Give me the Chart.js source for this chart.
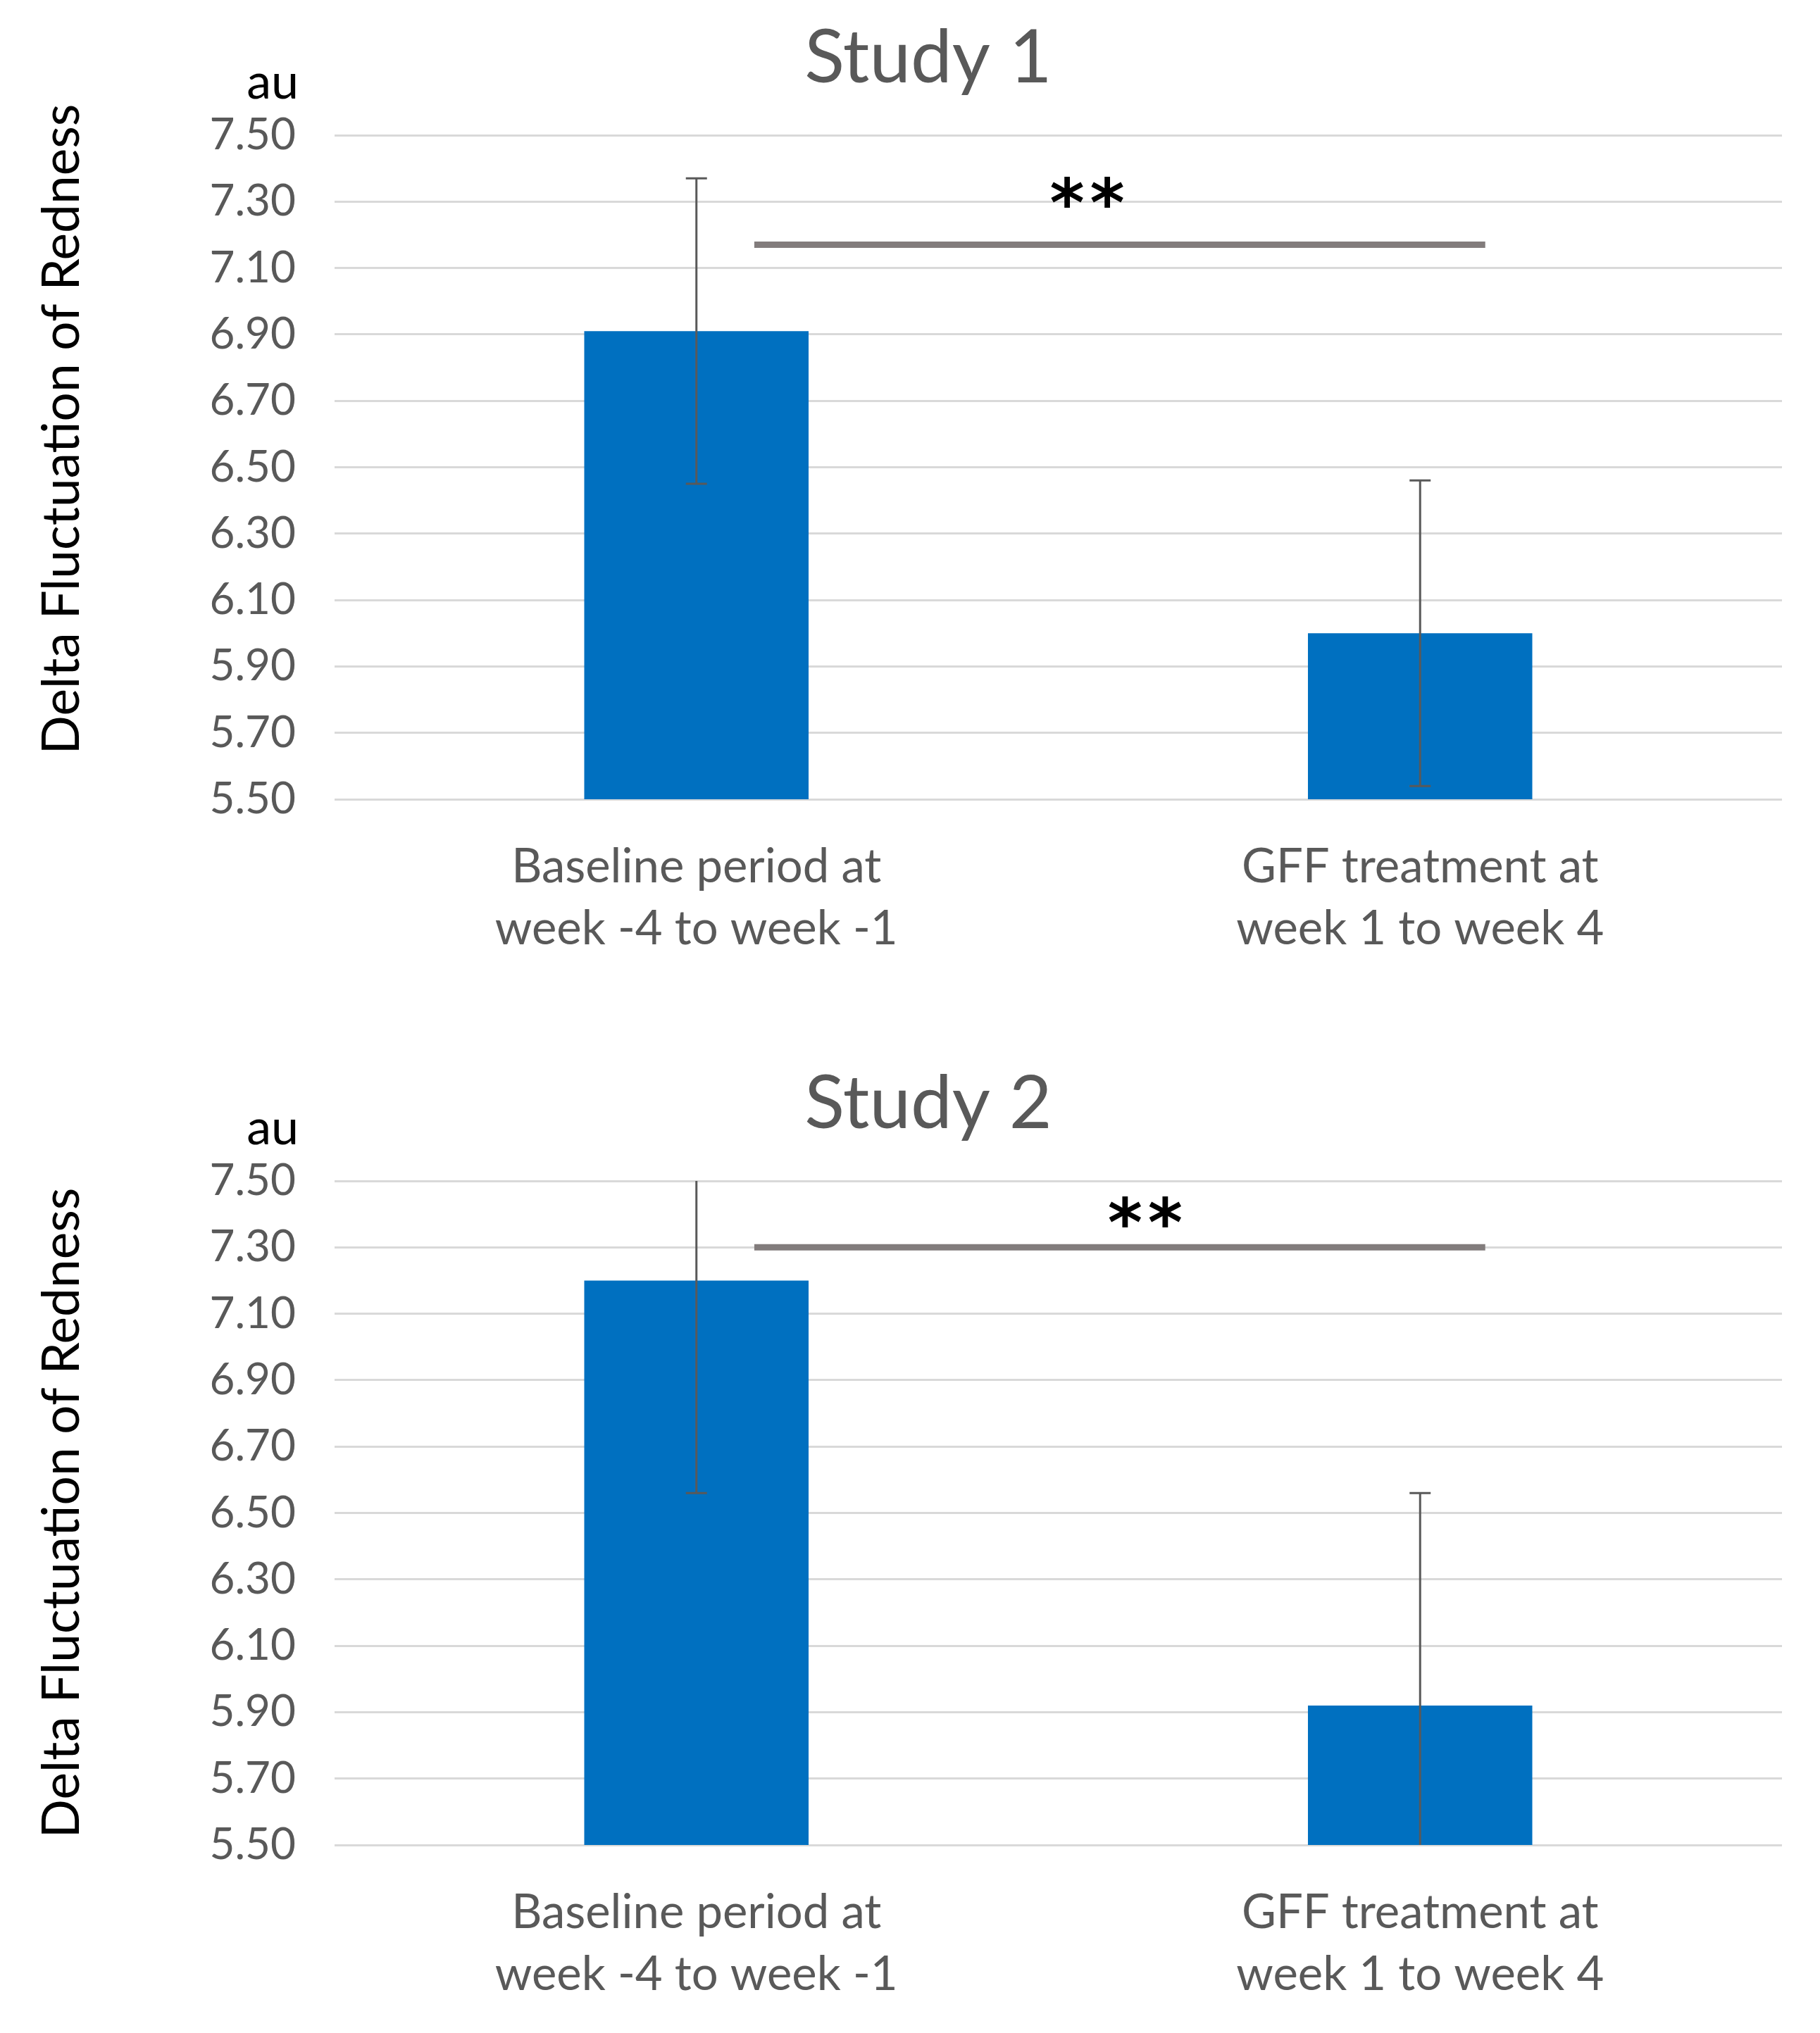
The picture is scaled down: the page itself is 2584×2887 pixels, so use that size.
<!DOCTYPE html>
<html>
<head>
<meta charset="utf-8">
<script src="https://cdn.jsdelivr.net/npm/chart.js@4.4.1/dist/chart.umd.min.js"></script>
<style>
  html, body { margin: 0; padding: 0; background: #ffffff; }
  .box { position: absolute; left: 0; width: 2584px; }
  #box1 { top: 0; height: 1485px; }
  #box2 { top: 1485px; height: 1402px; }
</style>
</head>
<body>
<div class="box" id="box1"><canvas id="chart1" width="2584" height="1485"></canvas></div>
<div class="box" id="box2"><canvas id="chart2" width="2584" height="1402"></canvas></div>
<script>
(function(){
    // values
    let categories = [
        ['Baseline period at', 'week -4 to week -1'],
        ['GFF treatment at', 'week 1 to week 4']
    ];
    let studyTitles = ['Study 1', 'Study 2'];
    let study1Means = [6.91, 6.00];
    let study1Errors = [0.46, 0.46];
    let study2Means = [7.20, 5.92];
    let study2Errors = [0.64, 0.64];
    let yMin = 5.50, yMax = 7.50, yStep = 0.20;
    let yUnit = 'au';
    let yTitle = 'Delta Fluctuation of Redness';
    // significance bracket: height, span in category units, star spot
    let sigLineY = [7.17, 7.30];
    let sigSpan = [0.08, 1.09];
    let starX = [0.54, 0.62];
    let starY = [7.32, 7.40];

    let barBlue = '#0070c0';
    let textGrey = '#595959';
    let gridGrey = '#d9d9d9';
    let plotTop = 192, plotBottom = 1135, plotLeft = 475;

    let extras = {
        id: 'extras',
        afterDatasetsDraw(chart, args, opts) {
            let ctx = chart.ctx;
            let x = chart.scales.x, y = chart.scales.y;
            let area = chart.chartArea;
            let meta = chart.getDatasetMeta(0);
            let errs = opts.errors;
            let means = chart.data.datasets[0].data;

            ctx.save();
            // error bars, cut at the axis range like the original
            ctx.strokeStyle = '#595959';
            ctx.lineWidth = 3;
            meta.data.forEach((bar, i) => {
                let hi = means[i] + errs[i], lo = means[i] - errs[i];
                let yHi = y.getPixelForValue(Math.min(hi, yMax));
                let yLo = y.getPixelForValue(Math.max(lo, yMin));
                ctx.beginPath();
                ctx.moveTo(bar.x, yHi);
                ctx.lineTo(bar.x, yLo);
                if (hi <= yMax) {
                    ctx.moveTo(bar.x - 15, yHi);
                    ctx.lineTo(bar.x + 15, yHi);
                }
                if (lo >= yMin) {
                    ctx.moveTo(bar.x - 15, yLo);
                    ctx.lineTo(bar.x + 15, yLo);
                }
                ctx.stroke();
            });

            // significance line
            let ly = y.getPixelForValue(opts.sigY);
            ctx.strokeStyle = '#827c7c';
            ctx.lineWidth = 9;
            ctx.beginPath();
            ctx.moveTo(x.getPixelForValue(sigSpan[0]), ly);
            ctx.lineTo(x.getPixelForValue(sigSpan[1]), ly);
            ctx.stroke();

            ctx.fillStyle = '#000000';
            ctx.font = 'bold 94px "DejaVu Sans"';
            ctx.letterSpacing = '8px';
            ctx.textAlign = 'center';
            ctx.textBaseline = 'middle';
            ctx.fillText('**', x.getPixelForValue(opts.starX) + 4, y.getPixelForValue(opts.starY) + 20);
            ctx.letterSpacing = '0px';

            // chart title
            ctx.fillStyle = textGrey;
            ctx.font = '105px Lato';
            ctx.textBaseline = 'alphabetic';
            ctx.fillText(opts.title, 1318, 117);

            // unit label above the tick labels
            ctx.fillStyle = '#000000';
            ctx.font = '70px Lato';
            ctx.textAlign = 'right';
            ctx.fillText(yUnit, area.left - 51, area.top - 52);

            // rotated axis title
            ctx.translate(88, (area.top + area.bottom) / 2 + opts.yTitleShift);
            ctx.rotate(-Math.PI / 2);
            ctx.textAlign = 'center';
            ctx.textBaseline = 'middle';
            ctx.font = '73px Lato';
            ctx.fillText(yTitle, 0, 0);
            ctx.restore();
        }
    };

    let makeChart = function(canvasId, title, means, errors, idx, yTitleShift) {
        let canvas = document.getElementById(canvasId);
        let h = canvas.height;
        return new Chart(canvas.getContext('2d'), {
            type: 'bar',
            data: {
                labels: categories,
                datasets: [{
                    data: means,
                    backgroundColor: barBlue,
                    borderWidth: 0,
                    barPercentage: 0.31,
                    categoryPercentage: 1.0
                }]
            },
            options: {
                responsive: false,
                animation: false,
                devicePixelRatio: 1,
                layout: { padding: { left: 0, right: 54, top: plotTop, bottom: 0 } },
                plugins: {
                    legend: { display: false },
                    tooltip: { enabled: false },
                    title: { display: false },
                    extras: {
                        title: title,
                        errors: errors,
                        sigY: sigLineY[idx],
                        starX: starX[idx],
                        starY: starY[idx],
                        yTitleShift: yTitleShift
                    }
                },
                scales: {
                    x: {
                        grid: { display: false, drawTicks: false },
                        border: { display: false },
                        ticks: {
                            color: textGrey,
                            padding: 52,
                            maxRotation: 0,
                            autoSkip: false,
                            font: { family: 'Lato', size: 67, lineHeight: 1.32 }
                        },
                        afterFit: (scale) => { scale.height = h - plotBottom; }
                    },
                    y: {
                        min: yMin,
                        max: yMax,
                        grid: { color: gridGrey, lineWidth: 3, drawTicks: false },
                        border: { display: false },
                        ticks: {
                            stepSize: yStep,
                            color: textGrey,
                            padding: 55,
                            font: { family: 'Lato', size: 62 },
                            callback: (v) => Number(v).toFixed(2)
                        },
                        afterFit: (scale) => { scale.width = plotLeft; }
                    }
                }
            },
            plugins: [extras]
        });
    };

    makeChart('chart1', studyTitles[0], study1Means, study1Errors, 0, -54);
    makeChart('chart2', studyTitles[1], study2Means, study2Errors, 1, 0);
})();
</script>
</body>
</html>
